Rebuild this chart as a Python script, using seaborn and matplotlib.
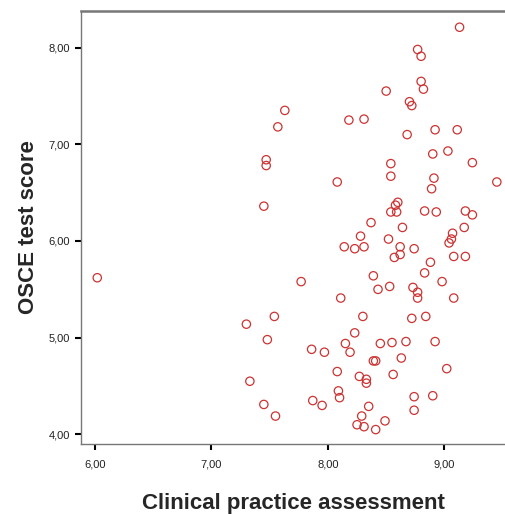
import numpy as np
import pandas as pd
import matplotlib
matplotlib.use('Agg')
import matplotlib.pyplot as plt
import seaborn as sns
from matplotlib.ticker import FuncFormatter

clinical = [6.02, 7.30, 7.33, 7.45, 7.55, 7.48, 7.54, 7.45, 7.47, 7.47,
            7.57, 7.63, 7.77, 7.86, 7.97, 7.87, 7.95, 8.08, 8.08, 8.09,
            8.10, 8.11, 8.14, 8.15, 8.19, 8.18, 8.23, 8.23, 8.28, 8.31,
            8.31, 8.30, 8.27, 8.33, 8.33, 8.35, 8.29, 8.25, 8.31, 8.41,
            8.49, 8.37, 8.39, 8.43, 8.39, 8.41, 8.45, 8.50, 8.52, 8.53,
            8.54, 8.54, 8.54, 8.57, 8.55, 8.56, 8.58, 8.60, 8.59, 8.62,
            8.62, 8.64, 8.63, 8.67, 8.68, 8.70, 8.72, 8.74, 8.73, 8.77,
            8.77, 8.72, 8.74, 8.74, 8.77, 8.80, 8.80, 8.82, 8.83, 8.83,
            8.84, 8.88, 8.89, 8.90, 8.91, 8.92, 8.93, 8.92, 8.90, 8.98,
            9.02, 9.03, 9.04, 9.06, 9.07, 9.08, 9.08, 9.11, 9.13, 9.17,
            9.18, 9.18, 9.24, 9.24, 9.45]
osce = [5.62, 5.14, 4.55, 4.31, 4.19, 4.98, 5.22, 6.36, 6.84, 6.78,
        7.18, 7.35, 5.58, 4.88, 4.85, 4.35, 4.30, 6.61, 4.65, 4.45,
        4.38, 5.41, 5.94, 4.94, 4.85, 7.25, 5.05, 5.92, 6.05, 5.94,
        7.26, 5.22, 4.60, 4.57, 4.53, 4.29, 4.19, 4.10, 4.08, 4.05,
        4.14, 6.19, 5.64, 5.50, 4.76, 4.76, 4.94, 7.55, 6.02, 5.53,
        6.80, 6.67, 6.30, 5.83, 4.95, 4.62, 6.37, 6.40, 6.30, 5.94,
        5.86, 6.14, 4.79, 4.96, 7.10, 7.44, 7.40, 5.92, 5.52, 5.47,
        5.41, 5.20, 4.39, 4.25, 7.98, 7.91, 7.65, 7.57, 6.31, 5.67,
        5.22, 5.78, 6.54, 6.90, 6.65, 7.15, 6.30, 4.96, 4.40, 5.58,
        4.68, 6.93, 5.98, 6.02, 6.08, 5.84, 5.41, 7.15, 8.21, 6.14,
        6.31, 5.84, 6.27, 6.81, 6.61]

x_ticks = [6, 7, 8, 9]
y_ticks = [4, 5, 6, 7, 8]

df = pd.DataFrame({'Clinical practice assessment': clinical,
                   'OSCE test score': osce})

sns.set_style('white')
plt.rcParams['font.family'] = ['Liberation Sans', 'DejaVu Sans']

fig = plt.figure(figsize=(5.06, 5.14), dpi=100)
ax = fig.add_axes([0.160, 0.136, 0.838, 0.843])

sns.scatterplot(data=df, x='Clinical practice assessment', y='OSCE test score',
                ax=ax, s=36, facecolor='none', edgecolor='#cc3333',
                linewidth=0.9)

ax.set_xlim(5.88, 9.52)
ax.set_ylim(3.9, 8.38)
ax.set_xticks(x_ticks)
ax.set_yticks(y_ticks)
comma = FuncFormatter(lambda v, p: f'{v:.2f}'.replace('.', ','))
ax.xaxis.set_major_formatter(comma)
ax.yaxis.set_major_formatter(comma)
ax.tick_params(axis='both', direction='out', length=4, width=1.5,
               color='black', labelsize=8, labelcolor='#222222',
               bottom=True, left=True)
ax.tick_params(axis='x', pad=7)
ax.tick_params(axis='y', pad=4)

for side in ['left', 'bottom']:
    ax.spines[side].set_color('#777777')
    ax.spines[side].set_linewidth(1.0)
ax.spines['top'].set_color('#777777')
ax.spines['top'].set_linewidth(1.8)
ax.spines['right'].set_visible(False)

ax.set_xlabel('Clinical practice assessment', fontsize=16,
              fontweight='bold', labelpad=17)
ax.set_ylabel('OSCE test score', fontsize=16, fontweight='bold',
              labelpad=6.5)

fig.savefig('out.png', dpi=100)
